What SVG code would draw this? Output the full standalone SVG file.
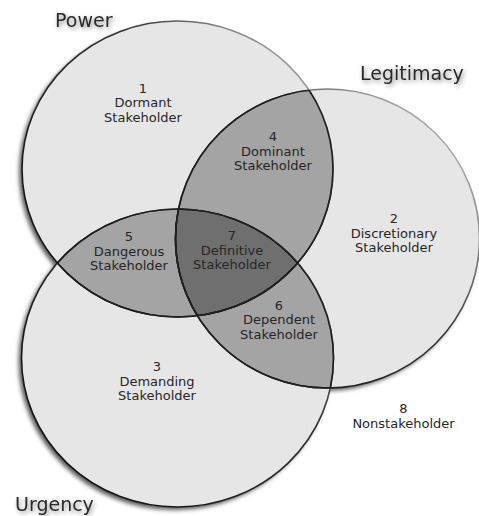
<svg xmlns="http://www.w3.org/2000/svg" xmlns:xlink="http://www.w3.org/1999/xlink" width="479" height="516" viewBox="0 0 479 516">
<style>
.lbl{font-family:"DejaVu Sans","Verdana",sans-serif;font-size:13px;fill:#262626;text-anchor:middle}
.ttl{font-family:"DejaVu Sans","Verdana",sans-serif;font-size:19px;fill:#2a2a2a}
.one{fill:#e6e6e6}
.two{fill:#a4a4a4}
.three{fill:#6f6f6f}
.edge{fill:none;stroke-width:1.6}
.inner{fill:none;stroke:#1e1e1e;stroke-width:1.6}
</style>
<defs>
<ellipse id="P" cx="177.5" cy="169" rx="155.5" ry="148"/>
<ellipse id="L" cx="327.5" cy="238.5" rx="152" ry="149.5"/>
<ellipse id="U" cx="177.5" cy="358" rx="156" ry="149"/>
<clipPath id="cP"><use xlink:href="#P"/></clipPath>
<clipPath id="cL"><use xlink:href="#L"/></clipPath>
<clipPath id="cU"><use xlink:href="#U"/></clipPath>
<filter id="shadow" x="-10%" y="-10%" width="120%" height="120%">
<feDropShadow dx="-3" dy="3" stdDeviation="2.2" flood-color="#000" flood-opacity="0.65"/>
</filter>
<filter id="tshadow" x="-20%" y="-40%" width="140%" height="180%">
<feDropShadow dx="1.5" dy="2" stdDeviation="2" flood-color="#000" flood-opacity="0.45"/>
</filter>
<linearGradient id="gP" gradientUnits="userSpaceOnUse" x1="67" y1="274" x2="288" y2="64">
<stop offset="0" stop-color="#111"/><stop offset="0.7" stop-color="#333"/><stop offset="1" stop-color="#9a9a9a"/>
</linearGradient>
<linearGradient id="gL" gradientUnits="userSpaceOnUse" x1="220" y1="344" x2="435" y2="133">
<stop offset="0" stop-color="#111"/><stop offset="0.55" stop-color="#333"/><stop offset="1" stop-color="#a8a8a8"/>
</linearGradient>
<linearGradient id="gU" gradientUnits="userSpaceOnUse" x1="67" y1="463" x2="288" y2="253">
<stop offset="0" stop-color="#111"/><stop offset="0.7" stop-color="#333"/><stop offset="1" stop-color="#888"/>
</linearGradient>
</defs>

<g id="base" filter="url(#shadow)">
<use xlink:href="#P" class="one"/>
<use xlink:href="#L" class="one"/>
<use xlink:href="#U" class="one"/>
</g>
<g id="overlaps">
<use xlink:href="#L" class="two" clip-path="url(#cP)"/>
<use xlink:href="#U" class="two" clip-path="url(#cP)"/>
<use xlink:href="#U" class="two" clip-path="url(#cL)"/>
<g clip-path="url(#cP)"><use xlink:href="#U" class="three" clip-path="url(#cL)"/></g>
</g>
<g id="outlines">
<use xlink:href="#P" class="edge" stroke="url(#gP)"/>
<use xlink:href="#L" class="edge" stroke="url(#gL)"/>
<use xlink:href="#U" class="edge" stroke="url(#gU)"/>
<use xlink:href="#P" class="inner" clip-path="url(#cL)"/>
<use xlink:href="#P" class="inner" clip-path="url(#cU)"/>
<use xlink:href="#L" class="inner" clip-path="url(#cP)"/>
<use xlink:href="#L" class="inner" clip-path="url(#cU)"/>
<use xlink:href="#U" class="inner" clip-path="url(#cP)"/>
<use xlink:href="#U" class="inner" clip-path="url(#cL)"/>
</g>

<g id="titles" filter="url(#tshadow)">
<text class="ttl" x="55" y="27">Power</text>
<text class="ttl" x="360" y="79.5">Legitimacy</text>
<text class="ttl" x="15" y="511">Urgency</text>
</g>

<g id="n1"><text class="lbl" x="143" y="93">1</text><text class="lbl" x="143" y="107.3">Dormant</text><text class="lbl" x="143" y="121.6">Stakeholder</text></g>
<g id="n4"><text class="lbl" x="273" y="141">4</text><text class="lbl" x="273" y="155.5">Dominant</text><text class="lbl" x="273" y="170">Stakeholder</text></g>
<g id="n2"><text class="lbl" x="394" y="223">2</text><text class="lbl" x="394" y="237.5">Discretionary</text><text class="lbl" x="394" y="252">Stakeholder</text></g>
<g id="n5"><text class="lbl" x="129" y="241">5</text><text class="lbl" x="129" y="255.5">Dangerous</text><text class="lbl" x="129" y="270">Stakeholder</text></g>
<g id="n7"><text class="lbl" x="232" y="240">7</text><text class="lbl" x="232" y="254.5">Definitive</text><text class="lbl" x="232" y="269">Stakeholder</text></g>
<g id="n6"><text class="lbl" x="279" y="310">6</text><text class="lbl" x="279" y="324.3">Dependent</text><text class="lbl" x="279" y="338.6">Stakeholder</text></g>
<g id="n3"><text class="lbl" x="157" y="371">3</text><text class="lbl" x="157" y="385.5">Demanding</text><text class="lbl" x="157" y="400">Stakeholder</text></g>
<g id="n8"><text class="lbl" x="403.5" y="413">8</text><text class="lbl" x="403.5" y="428">Nonstakeholder</text></g>
<g id="connectors"/>
</svg>
